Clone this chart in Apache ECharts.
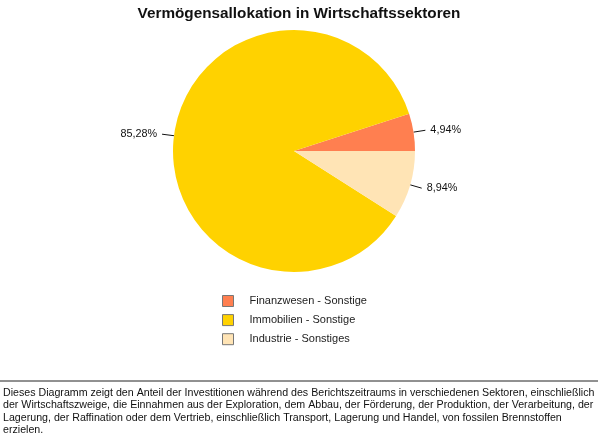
<!DOCTYPE html>
<html lang='de'>

  <head>
    <meta charset='utf-8'>
    <title>Vermögensallokation in Wirtschaftssektoren</title>
    <style>
      html, body { margin: 0; padding: 0; background: #fff; }
    </style>
  </head>

  <body>

    <div id="main" style="width:598px;height:435px;"></div>

    <script src="https://cdn.jsdelivr.net/npm/echarts@6/dist/echarts.min.js"></script>
    <script>
      // Daten
      var sektoren = ['Finanzwesen - Sonstige', 'Immobilien - Sonstige', 'Industrie - Sonstiges'];
      var anteile = [4.94, 85.28, 8.94];
      var farben = ['#FF7F50', '#FFD200', '#FFE4B5'];
      var fussnote = [
        'Dieses Diagramm zeigt den Anteil der Investitionen während des Berichtszeitraums in verschiedenen Sektoren, einschließlich',
        'der Wirtschaftszweige, die Einnahmen aus der Exploration, dem Abbau, der Förderung, der Produktion, der Verarbeitung, der',
        'Lagerung, der Raffination oder dem Vertrieb, einschließlich Transport, Lagerung und Handel, von fossilen Brennstoffen',
        'erzielen.'
      ];

      var myChart = echarts.init(document.getElementById('main'));
      var schrift = '"Liberation Sans", Arial, sans-serif';

      var option = {
        animation: false,
        textStyle: { fontFamily: schrift },
        title: {
          text: 'Vermögensallokation in Wirtschaftssektoren',
          left: 'center',
          top: 1,
          textStyle: { fontSize: 15.3, fontWeight: 'bold', color: '#111', fontFamily: schrift }
        },
        legend: {
          orient: 'vertical',
          left: 222,
          top: 295,
          padding: 0,
          itemWidth: 11,
          itemHeight: 11,
          itemGap: 7.1,
          icon: 'rect',
          itemStyle: { borderColor: '#777', borderWidth: 1 },
          textStyle: { fontSize: 11, color: '#222', padding: [0, 0, 0, 11] },
          data: sektoren
        },
        graphic: [
          {
            type: 'line',
            shape: { x1: 0, y1: 381, x2: 598, y2: 381 },
            style: { stroke: '#222', lineWidth: 1 }
          },
          {
            type: 'text',
            left: 3,
            top: 387,
            style: {
              text: fussnote.join('\n'),
              font: '10.65px ' + schrift,
              lineHeight: 12.3,
              fill: '#111'
            }
          }
        ],
        series: [{
          type: 'pie',
          center: [294, 151],
          radius: 121,
          startAngle: 0,
          clockwise: false,
          avoidLabelOverlap: false,
          itemStyle: { borderWidth: 0 },
          label: {
            show: true,
            color: '#111',
            fontSize: 10.8,
            formatter: function(p) {
              return p.value.toFixed(2).replace('.', ',') + '%';
            }
          },
          labelLine: {
            show: true,
            length: 12,
            length2: 0,
            lineStyle: { color: '#111', width: 1 }
          },
          emphasis: { disabled: true },
          data: sektoren.map(function(name, i) {
            return { name: name, value: anteile[i], itemStyle: { color: farben[i] } };
          })
        }]
      };

      myChart.setOption(option);
    </script>

  </body>

</html>
